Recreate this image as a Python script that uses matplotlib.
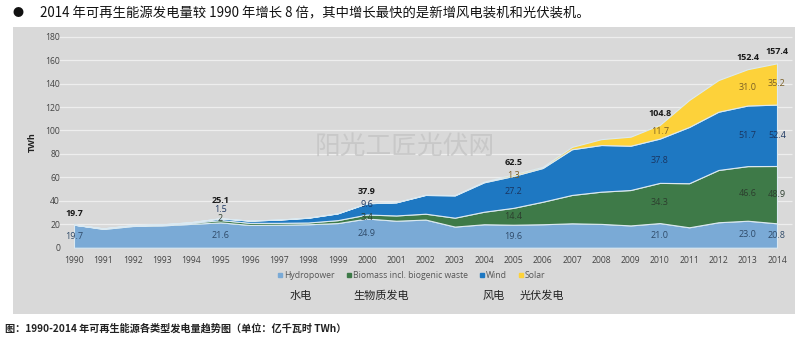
#!/usr/bin/env python3
import matplotlib
matplotlib.use("Agg")
import matplotlib.pyplot as plt
from matplotlib.lines import Line2D
from matplotlib.patches import Rectangle

plt.rcParams['font.family'] = ['Noto Sans CJK SC', 'DejaVu Sans']

# data (TWh)
years = list(range(1990, 2015))
hydro = [19.7, 16.0, 18.5, 19.0, 20.3, 21.6, 19.4, 19.6, 20.0, 21.0,
         24.9, 23.0, 24.0, 18.0, 20.0, 19.6, 20.0, 20.8, 20.3, 19.0,
         21.0, 17.4, 21.7, 23.0, 20.8]
biomass = [0.0, 0.4, 0.5, 0.6, 0.9, 2.0, 1.8, 1.6, 1.5, 2.5,
           3.4, 4.5, 5.0, 7.6, 10.7, 14.4, 19.2, 24.2, 27.5, 30.2,
           34.3, 37.6, 44.6, 46.6, 48.9]
wind = [0.0, 0.1, 0.2, 0.3, 0.6, 1.5, 1.9, 2.8, 4.1, 5.8,
        9.6, 11.2, 16.0, 19.0, 25.1, 27.2, 28.8, 39.0, 39.8, 37.8,
        37.8, 48.0, 49.7, 51.7, 52.4]
solar = [0.0, 0.0, 0.0, 0.0, 0.0, 0.0, 0.0, 0.0, 0.0, 0.0,
         0.0, 0.1, 0.2, 0.3, 0.6, 1.3, 1.0, 2.0, 5.0, 7.7,
         11.7, 23.0, 27.0, 31.0, 35.2]
series_names = ["Hydropower", "Biomass incl. biogenic waste", "Wind", "Solar"]
series_cn = ["水电", "生物质发电", "风电", "光伏发电"]
label_years = [1990, 1995, 2000, 2005, 2010, 2013, 2014]
totals = {1990: "19.7", 1995: "25.1", 2000: "37.9", 2005: "62.5",
          2010: "104.8", 2013: "152.4", 2014: "157.4"}

colors = ["#7aaad6", "#3e7a48", "#1e78c2", "#fdd23a"]
text_colors = ["#2f4a68", "#2c3e2e", "#1a3560", "#7a5f26"]

W, H = 800, 339
fig = plt.figure(figsize=(W / 100, H / 100), dpi=100)
fig.patch.set_facecolor("white")

# gray panel behind chart
fig.patches.append(Rectangle((13 / W, 1 - 314 / H), 782 / W, 287 / H,
                             transform=fig.transFigure, facecolor="#d9d9d9",
                             edgecolor="none", zorder=-5))

ax = fig.add_axes([74 / W, 1 - 247.7 / H, 703 / W, 211 / H])
ax.set_facecolor("none")
ax.set_xlim(1990, 2014)
ax.set_ylim(0, 180)

yt = range(0, 181, 20)
ax.hlines(list(yt)[1:], -0.023, 1.022, transform=ax.get_yaxis_transform(),
          colors="#eeeeee", linewidth=0.9, clip_on=False, zorder=0)

stack = [hydro, biomass, wind, solar]
ax.stackplot(years, *stack, colors=colors, edgecolor="#dbe9f1",
             linewidth=0.8, zorder=2)

for s in ax.spines.values():
    s.set_visible(False)
ax.set_yticks(list(yt))
ax.set_yticklabels([str(v) for v in yt], fontsize=6.2, color="#444444",
                   family="Open Sans")
ax.set_xticks(years)
ax.set_xticklabels([str(y) for y in years], fontsize=6.2, color="#444444",
                   family="Open Sans")
ax.tick_params(length=0, pad=6)
ax.tick_params(axis="y", pad=10)
ax.set_ylabel("TWh", fontsize=6.5, fontweight="bold", family="Open Sans",
              color="#222222", labelpad=6)

# segment labels
nudges = {(1995, 1): 25.0, (1995, 2): 32.5, (2000, 2): 37.0, (2000, 1): 26.0}
total_gap = {1995: 15.5}
for y in label_years:
    i = years.index(y)
    base = 0.0
    for k, ser in enumerate(stack):
        v = ser[i]
        if v > 0:
            ypos = nudges.get((y, k), base + v / 2)
            txt = "2" if (y == 1995 and k == 1) else f"{v:.1f}"
            ax.text(y, ypos, txt, ha="center", va="center", fontsize=6.5,
                    color=text_colors[k], family="Open Sans", zorder=4)
        base += v
    ax.text(y, base + total_gap.get(y, 9.8), totals[y], ha="center",
            va="center", fontsize=6.5, fontweight="bold", color="#1a1a1a",
            family="Open Sans", zorder=4)

# watermark
fig.text(405 / W, 1 - 147 / H, "阳光工匠光伏网", fontsize=18.5,
         color="#c4c4c4", alpha=0.8, ha="center", va="center", zorder=5)

# legend
handles = [Line2D([], [], marker="s", linestyle="none", markersize=2.5,
                  color=c) for c in colors]
leg = fig.legend(handles, series_names, loc="center", ncol=4,
                 bbox_to_anchor=(411 / W, 1 - 276 / H), frameon=False,
                 handletextpad=0.1, columnspacing=1.2, handlelength=0.8,
                 prop={"family": "Open Sans", "size": 6.2})
for t in leg.get_texts():
    t.set_color("#555555")

cn_x = [301, 381, 494, 542]
for x, s in zip(cn_x, series_cn):
    fig.text(x / W, 1 - 296 / H, s, fontsize=8, color="#222222",
             ha="center", va="center")

# header and caption
fig.text(18 / W, 1 - 13 / H, "●", fontsize=8, color="#111111",
         ha="center", va="center")
fig.text(40 / W, 1 - 13 / H,
         "2014 年可再生能源发电量较 1990 年增长 8 倍，其中增长最快的是新增风电装机和光伏装机。",
         fontsize=9.6, color="#111111", ha="left", va="center")
fig.text(5 / W, 1 - 329 / H,
         "图：1990-2014 年可再生能源各类型发电量趋势图（单位：亿千瓦时 TWh）",
         fontsize=7.3, fontweight="bold", color="#222222", ha="left",
         va="center")

fig.savefig("out.png", dpi=100)
